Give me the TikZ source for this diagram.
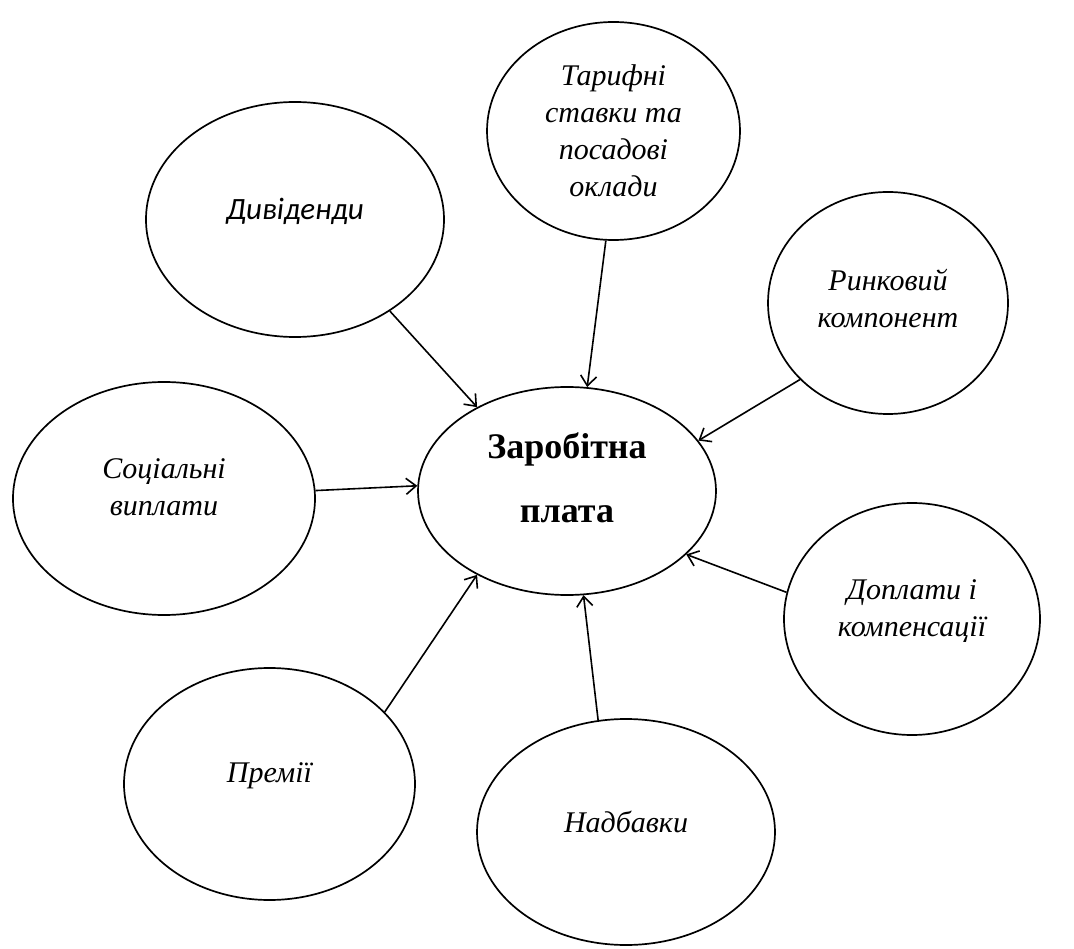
\documentclass[tikz,border=0pt]{standalone}
\usepackage{fontspec}
\setmainfont{Liberation Serif}
\newfontfamily\calib{Carlito}
\usetikzlibrary{shapes.geometric,arrows.meta}
\begin{document}
\begin{tikzpicture}[x=1pt,y=-1pt,
  oval/.style={ellipse,draw,line width=1.7pt,inner sep=0pt,align=center,
    font=\fontsize{30}{37}\selectfont\itshape},
  hub/.style={oval,font=\fontsize{36}{64}\selectfont\bfseries},
  link/.style={line width=1.6pt,-{Straight Barb[length=10pt,width=16pt,line width=1.6pt]}}]
\useasboundingbox (0,0) rectangle (1074,949);
\node[hub,minimum width=298pt,minimum height=208pt,text depth=26pt] (z) at (567,491) {Заробітна\\плата};
\node[oval,minimum width=253pt,minimum height=218pt] (t) at (613.5,131) {Тарифні\\ставки та\\посадові\\оклади};
\node[oval,minimum width=298pt,minimum height=235pt,text depth=22pt,font=\fontsize{31}{37}\selectfont\calib\itshape] (d) at (295,219.5) {Дивіденди};
\node[oval,minimum width=240pt,minimum height=222pt,text depth=10pt] (r) at (888,303) {Ринковий\\компонент};
\node[oval,minimum width=302pt,minimum height=233pt,text depth=22pt] (s) at (164,498.5) {Соціальні\\виплати};
\node[oval,minimum width=256pt,minimum height=232pt,text depth=22pt] (k) at (912,619) {Доплати і\\компенсації};
\node[oval,minimum width=291pt,minimum height=232pt,text depth=22pt] (p) at (269.5,784) {Премії};
\node[oval,minimum width=298pt,minimum height=226pt,text depth=20pt] (n) at (626,832) {Надбавки};
\draw[link] (d.316) -- (z.137.6);
\draw[link] (t.266) -- (z.79.8);
\draw[link] (r.221) -- (z.21);
\draw[link] (s.3.2) -- (z.178.5);
\draw[link] (k.168.4) -- (z.332.9);
\draw[link] (p.32.6) -- (z.223.3);
\draw[link] (n.104) -- (z.279.8);
\end{tikzpicture}
\end{document}
